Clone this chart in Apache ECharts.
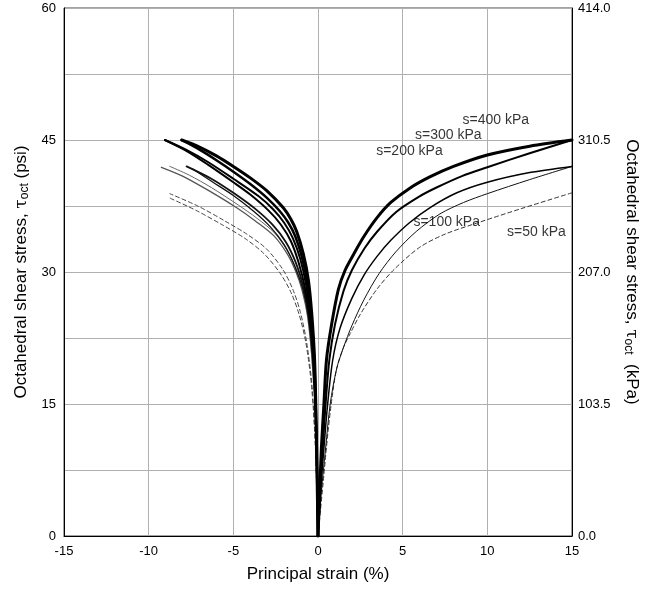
<!DOCTYPE html>
<html>
<head>
<meta charset="utf-8">
<script src="https://cdn.jsdelivr.net/npm/echarts@6/dist/echarts.min.js"></script>
<style>
  html, body { margin: 0; padding: 0; background: #fff; }
  #chart { width: 657px; height: 590px; }
</style>
</head>
<body>
<div id="chart"></div>
<script>
'use strict';

// axis ticks
const strainTicks = [-15, -10, -5, 0, 5, 10, 15];
const psiTicks = [0, 15, 30, 45, 60];
const kpaTicks = [0, 103.5, 207, 310.5, 414];

// compression side (positive strain), [strain %, tau_oct psi]
const s400Comp = [[0,0],[0.1,5],[0.2,10],[0.35,15],[0.5,20],[0.8,24],[1.2,28],[1.6,30.2],[2.1,32],[2.7,34],[3.5,36.2],[4.3,37.9],[5.4,39.5],[6.6,40.8],[8,42],[10,43.3],[12.5,44.3],[15,45]];
const s300Comp = [[0,0],[0.12,5],[0.28,10],[0.45,15],[0.67,20],[1.0,24],[1.5,27.8],[2.0,30.2],[2.75,32.7],[3.5,34.6],[4.6,36.8],[6,38.6],[7,39.6],[8.5,40.9],[10,41.9],[12.5,43.5],[15,45]];
const s200Comp = [[0,0],[0.15,5],[0.35,10],[0.57,15],[0.87,20],[1.3,23.6],[2.0,27],[2.7,29.6],[3.5,31.8],[4.3,33.6],[5.4,35.6],[6.6,37.3],[8.2,39],[10,40.2],[12.5,41.3],[15,42]];
const s100Comp = [[0,0],[0.2,5],[0.45,10],[0.72,15],[1.1,19],[1.5,21.4],[2,23.9],[2.7,26.8],[3.6,29.8],[4.6,32.3],[5.8,34.6],[7.2,36.6],[8.6,37.9],[10,38.9],[12.5,40.5],[15,42]];
const s50Comp = [[0,0],[0.3,6],[0.6,12],[0.85,16],[1.1,19],[1.5,21.4],[1.9,23],[2.5,25.2],[3.5,28.1],[4.5,30.3],[6,32.8],[7.5,34.3],[9.6,35.7],[12,37.2],[15,39]];

// extension side (negative strain)
const s400Ext = [[0,0],[-0.1,12],[-0.2,20],[-0.37,25.3],[-0.57,29.1],[-0.87,32.1],[-1.26,34.6],[-1.6,36],[-2.05,37.3],[-3,39.2],[-4,40.7],[-5,42],[-6,43.2],[-7,44.2],[-8.05,45]];
const s300Ext = [[0,0],[-0.1,12],[-0.22,20],[-0.4,25],[-0.62,28.6],[-0.95,31.7],[-1.35,34.1],[-1.75,35.6],[-2.25,36.9],[-3,38.4],[-4,40],[-5,41.4],[-6,42.7],[-7,43.9],[-8.05,45]];
const s200ExtA = [[0,0],[-0.1,12],[-0.25,20],[-0.45,25],[-0.7,28.5],[-1.05,31.5],[-1.5,33.9],[-2,35.6],[-2.64,37.1],[-3.5,38.6],[-5,40.6],[-6.5,42.5],[-7.8,43.9],[-9.04,45]];
const s200ExtB = [[0,0],[-0.1,12],[-0.27,20],[-0.5,25],[-0.78,28.3],[-1.15,31.1],[-1.6,33.5],[-2.2,35.4],[-2.93,37],[-4,38.8],[-5,40.2],[-6.5,42.2],[-7.8,43.8],[-9.04,45]];
const s100ExtA = [[0,0],[-0.1,12],[-0.3,20],[-0.55,25],[-0.85,28.2],[-1.3,31],[-1.9,33.4],[-2.7,35.4],[-3.72,37.2],[-5,39],[-6.3,40.6],[-7.76,42]];
const s100ExtB = [[0,0],[-0.1,12],[-0.3,20],[-0.57,25],[-0.9,28.1],[-1.4,30.8],[-2,33.1],[-2.8,35.1],[-3.8,36.9],[-5,38.7],[-6.2,40.2],[-7.4,41.7]];
const s50ExtA = [[0,0],[-0.12,12],[-0.35,20],[-0.62,25],[-0.95,28],[-1.3,30],[-1.8,32],[-2.6,34.1],[-3.7,35.8],[-4.8,37.3],[-6.5,39.3],[-8,40.9],[-9.25,41.9]];
const s50ExtB = [[0,0],[-0.12,12],[-0.35,20],[-0.6,25],[-0.92,28.2],[-1.26,30.2],[-1.75,32.2],[-2.55,34.4],[-3.6,36.1],[-4.7,37.6],[-6.3,39.6],[-7.6,41],[-8.75,42]];
const s25ExtA = [[0,0],[-0.15,10],[-0.35,17],[-0.67,22],[-1.05,25.5],[-1.46,27.9],[-2.05,30.2],[-3.03,32.6],[-4.2,34.3],[-5.5,35.8],[-7.1,37.5],[-8.75,38.9]];
const s25ExtB = [[0,0],[-0.15,10],[-0.38,17],[-0.72,22],[-1.12,25.2],[-1.6,27.7],[-2.25,29.9],[-3.2,32.1],[-4.3,33.8],[-5.6,35.3],[-7.2,37],[-8.75,38.4]];

// annotation text and where it sits (strain, psi)
const labelText = ['s=400 kPa', 's=300 kPa', 's=200 kPa', 's=100 kPa', 's=50 kPa'];
const labelPos = [[10.5, 47.3], [7.7, 45.6], [5.4, 43.7], [7.6, 35.7], [12.9, 34.5]];

const chart = echarts.init(document.getElementById('chart'), null, { renderer: 'canvas' });

const font = 'Liberation Sans, Arial, Helvetica, sans-serif';

function curve(data, width, color, dashed) {
    return {
        type: 'line',
        data: data,
        showSymbol: false,
        symbol: 'none',
        smooth: 0.3,
        silent: true,
        animation: false,
        lineStyle: {
            width: width,
            color: color,
            type: dashed ? [4, 3] : 'solid',
            cap: 'round',
            join: 'round'
        },
        z: 3
    };
}

const series = [
    curve(s25ExtA, 1, '#444', true),
    curve(s25ExtB, 1, '#444', true),
    curve(s50Comp, 1, '#333', true),
    curve(s50ExtA, 1.3, '#555'),
    curve(s50ExtB, 1, '#666'),
    curve(s100Comp, 1, '#111'),
    curve(s100ExtA, 1.8, '#111'),
    curve(s100ExtB, 1.3, '#111'),
    curve(s200Comp, 1.5, '#000'),
    curve(s200ExtA, 2, '#000'),
    curve(s200ExtB, 2, '#000'),
    curve(s300Comp, 2, '#000'),
    curve(s300Ext, 2.5, '#000'),
    curve(s400Comp, 3, '#000'),
    curve(s400Ext, 3, '#000'),
    {
        type: 'scatter',
        symbolSize: 0,
        silent: true,
        animation: false,
        data: labelPos.map((p, i) => ({ value: p, name: labelText[i] })),
        label: {
            show: true,
            position: 'inside',
            formatter: p => p.name,
            color: '#000',
            fontSize: 14,
            fontFamily: font
        },
        z: 5
    }
];

const nameRich = {
    t: { fontSize: 17, fontFamily: 'DejaVu Serif, serif', color: '#000' },
    sub: { fontSize: 12, color: '#000', fontFamily: font, padding: [7, 0, 0, 0] }
};

const option = {
    backgroundColor: '#fff',
    animation: false,
    grid: {
        left: 64,
        right: 85,
        top: 8,
        bottom: 54,
        show: true,
        borderColor: '#444',
        borderWidth: 1
    },
    xAxis: {
        type: 'value',
        min: strainTicks[0],
        max: strainTicks[strainTicks.length - 1],
        interval: 5,
        name: 'Principal strain (%)',
        nameLocation: 'middle',
        nameGap: 30,
        nameTextStyle: { fontSize: 17, color: '#000', fontFamily: font },
        axisLine: { show: true, onZero: false, lineStyle: { color: '#000', width: 1 } },
        axisTick: { show: false },
        axisLabel: { color: '#000', fontSize: 13, margin: 9, fontFamily: font },
        splitLine: { show: true, lineStyle: { color: '#b0b0b0', width: 1 } }
    },
    yAxis: [{
        type: 'value',
        min: psiTicks[0],
        max: psiTicks[psiTicks.length - 1],
        interval: 7.5,
        position: 'left',
        name: 'Octahedral shear stress, {t|τ}{sub|oct} (psi)',
        nameLocation: 'middle',
        nameGap: 32,
        nameTextStyle: { fontSize: 17, color: '#000', fontFamily: font, rich: nameRich },
        axisLine: { show: true, onZero: false, lineStyle: { color: '#000', width: 1 } },
        axisTick: { show: false },
        axisLabel: {
            color: '#000', fontSize: 13, margin: 8, fontFamily: font,
            formatter: v => (psiTicks.indexOf(v) >= 0 ? String(v) : '')
        },
        splitLine: { show: true, lineStyle: { color: '#b0b0b0', width: 1 } }
    }, {
        type: 'value',
        min: kpaTicks[0],
        max: kpaTicks[kpaTicks.length - 1],
        interval: 103.5,
        position: 'right',
        name: 'Octahedral shear stress, {t|τ}{sub|oct}  (kPa)',
        nameLocation: 'middle',
        nameRotate: -90,
        nameGap: 50,
        nameTextStyle: { fontSize: 17, color: '#000', fontFamily: font, rich: nameRich },
        axisLine: { show: true, onZero: false, lineStyle: { color: '#000', width: 1 } },
        axisTick: { show: false },
        axisLabel: {
            color: '#000', fontSize: 13, margin: 6, fontFamily: font,
            formatter: v => v.toFixed(1)
        },
        splitLine: { show: false }
    }],
    series: series
};

chart.setOption(option);
</script>
</body>
</html>
